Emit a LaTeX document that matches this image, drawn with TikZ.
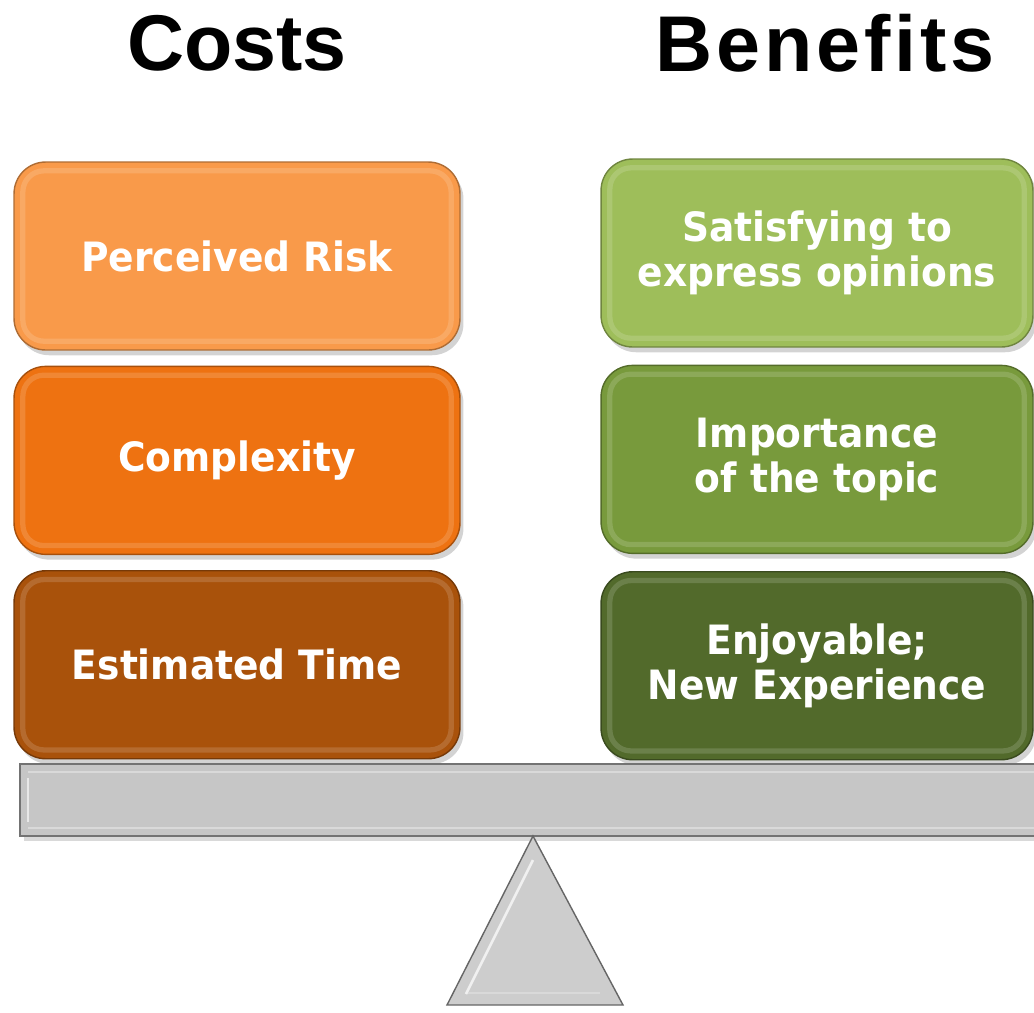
\documentclass[tikz,border=0pt]{standalone}
\usepackage{fontspec}
\setmainfont{DejaVu Sans}
\newfontfamily\titlefont{Liberation Sans}
\newfontfamily\widetitlefont{Liberation Sans}[LetterSpace=5]
\newfontfamily\boxfont{DejaVu Sans}[FakeStretch=0.93]
\usepackage{tikz}
\usetikzlibrary{positioning,shadows}

\definecolor{costA}{HTML}{F99A4A}
\definecolor{costB}{HTML}{EE7211}
\definecolor{costC}{HTML}{A9520B}
\definecolor{gainA}{HTML}{9EBE5A}
\definecolor{gainB}{HTML}{789A3C}
\definecolor{gainC}{HTML}{526A2B}
\definecolor{beamgray}{HTML}{C6C6C6}
\definecolor{pivotgray}{HTML}{CDCDCD}

\tikzset{
  heading/.style={font=\titlefont\bfseries\fontsize{45}{50}\selectfont, inner sep=0pt},
  weight/.style={rectangle, rounded corners=18pt, minimum width=8.92cm, minimum height=3.76cm,
    fill=#1, draw=#1!70!black, line width=0.8pt, text=white, align=center,
    font=\boxfont\bfseries\fontsize{23}{25.5}\selectfont,
    drop shadow={shadow xshift=2pt, shadow yshift=-3pt, opacity=0.35},
    path picture={\draw[white, opacity=0.15, line width=3pt, rounded corners=12pt]
      ([shift={(5pt,-5pt)}]path picture bounding box.north west) rectangle
      ([shift={(-5pt,5pt)}]path picture bounding box.south east);}},
}

\begin{document}
\begin{tikzpicture}[x=0.02cm, y=-0.02cm]
   \useasboundingbox (0,0) rectangle (1034,1012);
   % headings
   \node[heading] (costs) at (237,43) {Costs};
   \node[heading, font=\widetitlefont\bfseries\fontsize{45}{50}\selectfont] (benefits) at (825,43) {Benefits};
   % cost side
   \node[weight=costA] (risk) at (237,256) {Perceived Risk};
   \node[weight=costB, below=0.3cm of risk] (complexity) {Complexity};
   \node[weight=costC, below=0.3cm of complexity] (time) {Estimated Time};
   % benefit side
   \node[weight=gainA, minimum width=8.64cm] (satisfy) at (817,253) {Satisfying to\\express opinions};
   \node[weight=gainB, minimum width=8.64cm, below=0.34cm of satisfy] (topic) {Importance\\of the topic};
   \node[weight=gainC, minimum width=8.64cm, below=0.34cm of topic] (enjoy) {Enjoyable;\\New Experience};
   % beam and pivot
   \draw[fill=beamgray, draw=black!55, line width=0.8pt,
         drop shadow={shadow xshift=2pt, shadow yshift=-3pt, opacity=0.3}]
      (20,764) rectangle (1060,836);
   \draw[white, opacity=0.6, line width=1.5pt] (28,778) -- (28,822);
   \draw[black!15, line width=1.5pt] (28,772) -- (1060,772) (28,828) -- (1060,828);
   \draw[fill=pivotgray, draw=black!60, line width=0.8pt] (533,836) -- (623,1005) -- (447,1005) -- cycle;
   \draw[white, opacity=0.7, line width=1.5pt] (533,860) -- (466,994);
   \draw[black!15, line width=1.5pt] (468,993) -- (600,993);
\end{tikzpicture}
\end{document}
